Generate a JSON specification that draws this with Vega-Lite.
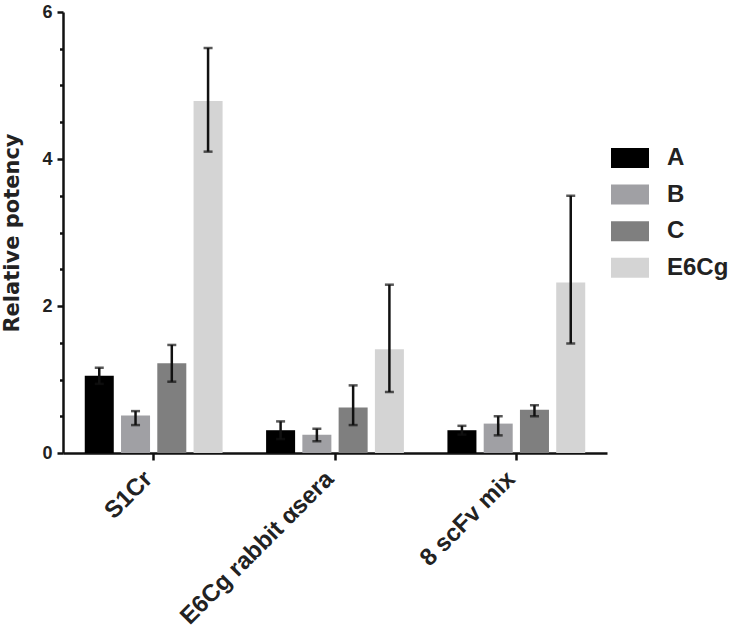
{
  "$schema": "https://vega.github.io/schema/vega-lite/v6.json",
  "width": 544,
  "height": 441,
  "autosize": "none",
  "padding": {"left": 63, "top": 12, "right": 124, "bottom": 178},
  "background": "white",
  "config": {
    "view": {"stroke": null},
    "font": "Liberation Sans",
    "axis": {"domainColor": "#111", "domainWidth": 2.5, "tickColor": "#111", "labelColor": "#222", "titleColor": "#222", "grid": false},
    "axisY": {
      "values": [0, 0.2, 0.4, 0.6, 0.8, 1, 1.2, 1.4, 1.6, 1.8, 2, 2.2, 2.4, 2.6, 2.8, 3, 3.2, 3.4, 3.6, 3.8, 4, 4.2, 4.4, 4.6, 4.8, 5, 5.2, 5.4, 5.6, 5.8, 6],
      "format": ".1f",
      "labelExpr": "abs(datum.value - round(datum.value / 2) * 2) < 0.001 ? format(datum.value, 'd') : ''",
      "labelOverlap": false,
      "labelFontSize": 18,
      "labelFontWeight": "bold",
      "labelPadding": 5,
      "tickSize": {"condition": {"test": "abs(datum.value - round(datum.value / 2) * 2) < 0.001", "value": 6}, "value": 3.5},
      "tickWidth": 2.5,
      "titleFont": "DejaVu Sans",
      "titleFontSize": 21,
      "titleFontWeight": "bold",
      "titlePadding": 19
    }
  },
  "data": {
    "values": [
      {"group": "S1Cr", "series": "A", "value": 1.05, "low": 0.94, "high": 1.16},
      {"group": "S1Cr", "series": "B", "value": 0.51, "low": 0.38, "high": 0.57},
      {"group": "S1Cr", "series": "C", "value": 1.22, "low": 0.97, "high": 1.47},
      {"group": "S1Cr", "series": "E6Cg", "value": 4.79, "low": 4.10, "high": 5.51},
      {"group": "E6Cg rabbit αsera", "series": "A", "value": 0.31, "low": 0.19, "high": 0.43},
      {"group": "E6Cg rabbit αsera", "series": "B", "value": 0.25, "low": 0.16, "high": 0.33},
      {"group": "E6Cg rabbit αsera", "series": "C", "value": 0.62, "low": 0.38, "high": 0.92},
      {"group": "E6Cg rabbit αsera", "series": "E6Cg", "value": 1.41, "low": 0.83, "high": 2.29},
      {"group": "8 scFv mix", "series": "A", "value": 0.31, "low": 0.25, "high": 0.37},
      {"group": "8 scFv mix", "series": "B", "value": 0.40, "low": 0.24, "high": 0.50},
      {"group": "8 scFv mix", "series": "C", "value": 0.59, "low": 0.50, "high": 0.65},
      {"group": "8 scFv mix", "series": "E6Cg", "value": 2.32, "low": 1.49, "high": 3.50}
    ]
  },
  "encoding": {
    "x": {
      "field": "group",
      "type": "nominal",
      "sort": ["S1Cr", "E6Cg rabbit αsera", "8 scFv mix"],
      "scale": {"paddingInner": 0.2, "paddingOuter": 0.1},
      "title": null,
      "axis": {
        "labelAngle": -45,
        "labelAlign": "right",
        "labelBaseline": "alphabetic",
        "labelFontSize": 24,
        "labelFontWeight": "bold",
        "labelPadding": 20,
        "tickSize": 7,
        "tickWidth": 2.5,
        "labelLimit": 400
      }
    },
    "xOffset": {
      "field": "series",
      "type": "nominal",
      "sort": ["A", "B", "C", "E6Cg"],
      "scale": {"paddingInner": 0.2, "paddingOuter": 0.1}
    }
  },
  "layer": [
    {
      "mark": {"type": "bar"},
      "encoding": {
        "y": {
          "field": "value",
          "type": "quantitative",
          "scale": {"domain": [0, 6], "nice": false},
          "title": "Relative potency"
        },
        "color": {
          "field": "series",
          "type": "nominal",
          "sort": ["A", "B", "C", "E6Cg"],
          "scale": {"domain": ["A", "B", "C", "E6Cg"], "range": ["#000000", "#a0a0a4", "#7f7f7f", "#d4d4d4"]},
          "legend": {
            "title": null,
            "orient": "none",
            "legendX": 548,
            "legendY": 127,
            "symbolType": "M-1,-0.526H1V0.526H-1Z",
            "symbolSize": 1444,
            "symbolStrokeWidth": 0,
            "symbolOpacity": 1,
            "labelFontSize": 24,
            "labelFontWeight": "bold",
            "labelColor": "#222",
            "labelOffset": 18,
            "rowPadding": 5.6,
            "padding": 0
          }
        }
      }
    },
    {
      "mark": {"type": "rule", "color": "#111", "strokeWidth": 2.5},
      "encoding": {
        "y": {"field": "low", "type": "quantitative", "title": "Relative potency"},
        "y2": {"field": "high"}
      }
    },
    {
      "mark": {"type": "tick", "color": "#111", "size": 9, "thickness": 2.5, "orient": "horizontal"},
      "encoding": {
        "y": {"field": "low", "type": "quantitative", "title": "Relative potency"}
      }
    },
    {
      "mark": {"type": "tick", "color": "#111", "size": 9, "thickness": 2.5, "orient": "horizontal"},
      "encoding": {
        "y": {"field": "high", "type": "quantitative", "title": "Relative potency"}
      }
    }
  ]
}
